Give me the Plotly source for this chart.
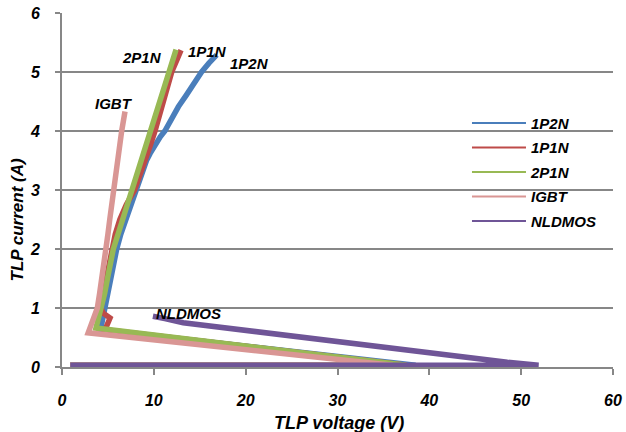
import plotly.graph_objects as go

# TLP I-V measurements (voltage in V, current in A)
v_1p2n = [0.9, 38.5, 4.2, 4.4, 4.68, 5.0, 5.3, 5.6, 5.96, 6.4, 6.95, 7.5, 8.2, 8.6, 9.2, 9.6,
          10.2, 10.7, 11.2, 11.9, 12.67, 13.5, 14.3, 15.2, 16.0, 16.85]
i_1p2n = [0.03, 0.03, 0.63, 0.8, 1.0, 1.25, 1.5, 1.75, 2.0, 2.25, 2.5, 2.75, 3.0, 3.25, 3.5, 3.62,
          3.78, 3.9, 4.0, 4.2, 4.41, 4.6, 4.8, 5.0, 5.15, 5.29]

v_1p1n = [0.9, 37.5, 4.68, 4.87, 5.23, 4.5, 4.25, 4.5, 4.8, 5.1, 5.35, 5.8, 6.3, 7.0, 7.9, 8.5,
          9.0, 9.6, 10.13, 11.0, 11.95, 12.5, 12.96]
i_1p1n = [0.03, 0.03, 0.63, 0.71, 0.83, 0.91, 1.0, 1.25, 1.5, 1.75, 2.0, 2.25, 2.5, 2.75, 3.0, 3.25,
          3.5, 3.75, 4.0, 4.5, 5.0, 5.2, 5.37]

v_2p1n = [0.9, 37.5, 3.7, 4.0, 4.32, 4.65, 4.95, 5.3, 5.59, 6.1, 6.6, 7.1, 7.6, 8.1, 8.6, 9.1,
          9.59, 10.6, 11.58, 12.0, 12.42]
i_2p1n = [0.03, 0.03, 0.66, 0.82, 1.0, 1.25, 1.5, 1.75, 2.0, 2.25, 2.5, 2.75, 3.0, 3.25, 3.5, 3.75,
          4.0, 4.5, 5.0, 5.2, 5.38]

v_igbt = [0.9, 36.0, 2.85, 3.4, 3.85, 4.1, 4.35, 4.6, 4.79, 5.0, 5.2, 5.4, 5.59, 6.05, 6.5, 6.86]
i_igbt = [0.03, 0.03, 0.58, 0.8, 1.0, 1.25, 1.5, 1.75, 2.0, 2.25, 2.5, 2.75, 3.0, 3.5, 4.0, 4.33]

v_nldmos = [0.9, 51.9, 48.5, 25.9, 13.2, 11.2, 9.9]
i_nldmos = [0.03, 0.03, 0.08, 0.52, 0.75, 0.82, 0.86]

series_names = ["1P2N", "1P1N", "2P1N", "IGBT", "NLDMOS"]
series_colors = ["#4a7ebb", "#be4b48", "#98b954", "#d99694", "#6f5597"]
series_v = [v_1p2n, v_1p1n, v_2p1n, v_igbt, v_nldmos]
series_i = [i_1p2n, i_1p1n, i_2p1n, i_igbt, i_nldmos]

# curve labels: text, voltage, current
label_text = ["1P2N", "1P1N", "2P1N", "IGBT", "NLDMOS"]
label_v = [20.4, 15.8, 8.7, 5.7, 13.8]
label_i = [5.14, 5.34, 5.24, 4.46, 0.9]

FONT = "Liberation Sans, Arial, sans-serif"
GRID = "#878787"

fig = go.Figure()

for name, color, vv, ii in zip(series_names, series_colors, series_v, series_i):
    fig.add_trace(go.Scatter(
        x=vv, y=ii, mode="lines", name=name, showlegend=False,
        line=dict(color=color, width=5.5, shape="linear"),
    ))

# thin legend samples
for k, (name, color) in enumerate(zip(series_names, series_colors)):
    fig.add_trace(go.Scatter(
        x=[None], y=[None], mode="lines", name=name, legendgroup=f"g{k}",
        line=dict(color=color, width=2),
    ))

for t, xv, yv in zip(label_text, label_v, label_i):
    fig.add_annotation(
        x=xv, y=yv, xref="x", yref="y", text=t, showarrow=False,
        font=dict(family=FONT, size=15, color="black", weight="bold", style="italic"),
    )

fig.add_annotation(
    x=-0.081, y=0.415, xref="paper", yref="paper", text="TLP current (A)",
    textangle=-90, showarrow=False, xanchor="center", yanchor="middle",
    font=dict(family=FONT, size=17, color="black", weight="bold", style="italic"),
)
fig.add_annotation(
    x=0.503, y=-0.158, xref="paper", yref="paper", text="TLP voltage (V)",
    showarrow=False, xanchor="center", yanchor="middle",
    font=dict(family=FONT, size=18, color="black", weight="bold", style="italic"),
)

tick_font = dict(family=FONT, size=16, color="black", weight="bold", style="italic")

fig.update_layout(
    width=626, height=432,
    margin=dict(l=62, r=13, t=13, b=65, autoexpand=False),
    paper_bgcolor="white", plot_bgcolor="white",
    xaxis=dict(
        range=[0, 60], dtick=10, showgrid=False, zeroline=False, automargin=False,
        showline=True, linecolor=GRID, linewidth=2,
        ticks="outside", ticklen=6, tickwidth=2, tickcolor=GRID,
        tickfont=tick_font, ticklabelstandoff=12,
    ),
    yaxis=dict(
        range=[0, 6], dtick=1, showgrid=True, gridcolor=GRID, gridwidth=2, automargin=False,
        zeroline=False, showline=True, linecolor=GRID, linewidth=2,
        ticks="outside", ticklen=5, tickwidth=2, tickcolor=GRID,
        tickfont=tick_font, ticklabelstandoff=12,
    ),
    legend=dict(
        x=0.735, y=0.735, xanchor="left", yanchor="top",
        bgcolor="rgba(0,0,0,0)", tracegroupgap=2, itemwidth=54,
        font=dict(family=FONT, size=15, color="black", weight="bold", style="italic"),
    ),
    showlegend=True,
)

fig.write_html("out.html")
